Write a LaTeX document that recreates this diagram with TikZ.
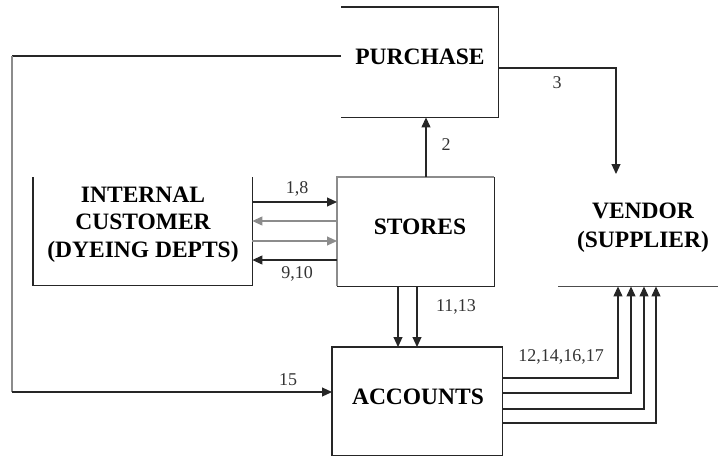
\documentclass[tikz,border=0pt]{standalone}
\usepackage{fontspec}
\setmainfont{Liberation Serif}
\usetikzlibrary{arrows.meta}
\begin{document}
\begin{tikzpicture}[x=1pt,y=-1pt,
  edge/.style={line width=1.1pt, draw=black!85},
  lightedge/.style={line width=1.1pt, draw=black!45},
  tip/.style={-{Triangle[length=10pt,width=9pt]}},
  frame/.style={line width=1.4pt, draw=black!85},
  area/.style={rectangle, inner sep=0pt, anchor=north west},
  title/.style={font=\fontsize{23.5}{27.5}\selectfont\bfseries, align=center, inner sep=0pt},
  num/.style={font=\fontsize{18}{20}\selectfont, inner sep=0pt, text=black!80}]
\useasboundingbox (0,0) rectangle (718,456);

% boxes
\node[area, minimum width=157pt, minimum height=110pt] (pur) at (341,7) {};
\draw[frame] (pur.north west) -- (pur.north east) -- (pur.south east) -- (pur.south west);
\node[title] (purt) at (420,57) {PURCHASE};

\node[area, minimum width=219pt, minimum height=108pt] (cust) at (33,177) {};
\draw[frame] (cust.north west) -- (cust.south west) -- (cust.south east) -- (cust.north east);
\node[title] (custt) at (143,224.5) {INTERNAL\\CUSTOMER\\(DYEING DEPTS)};

\node[area, minimum width=157pt, minimum height=109pt] (stores) at (337,177) {};
\draw[frame, draw=black!45] (stores.south west) -- (stores.north west) -- (stores.north east);
\draw[frame] (stores.north east) -- (stores.south east) -- (stores.south west);
\node[title] (storest) at (420,227) {STORES};

\node[area, minimum width=170pt, minimum height=108pt] (acc) at (332,347) {};
\draw[frame] (acc.north west) rectangle (acc.south east);
\node[title] (acct) at (418,397) {ACCOUNTS};

\node[area, minimum width=160pt, minimum height=100pt] (vend) at (558,186) {};
\draw[frame, draw=black!70] (vend.south west) -- (vend.south east);
\node[title, font=\fontsize{23.5}{29}\selectfont\bfseries] (vendt) at (643,227.5) {VENDOR\\(SUPPLIER)};

% purchase -> accounts (15)
\coordinate (c15a) at (12,56);
\coordinate (c15b) at (12,392);
\draw[edge] (pur.west |- c15a) -- (c15a);
\draw[lightedge] (c15a) -- (c15b);
\draw[edge, tip] (c15b) -- (acc.west |- c15b);
\node[num] (l15) at (288,380) {15};

% purchase -> vendor (3)
\coordinate (c3) at (616,68);
\coordinate (v3) at (616,174);
\draw[edge, tip] (pur.east |- c3) -- (c3) -- (v3);
\node[num] (l3) at (557,83) {3};

% stores -> purchase (2)
\coordinate (x2) at (426,0);
\draw[edge, tip] (stores.north -| x2) -- (pur.south -| x2);
\node[num] (l2) at (446,145) {2};

% customer <-> stores
\coordinate (ya) at (0,202);
\coordinate (yb) at (0,221);
\coordinate (yc) at (0,241);
\coordinate (yd) at (0,260);
\draw[edge, tip] (cust.east |- ya) -- (stores.west |- ya);
\draw[lightedge, tip] (stores.west |- yb) -- (cust.east |- yb);
\draw[lightedge, tip] (cust.east |- yc) -- (stores.west |- yc);
\draw[edge, tip] (stores.west |- yd) -- (cust.east |- yd);
\node[num] (l18) at (297,189) {1,8};
\node[num] (l910) at (297,274) {9,10};

% stores -> accounts
\coordinate (xs1) at (398,0);
\coordinate (xs2) at (417,0);
\draw[edge, tip] (stores.south -| xs1) -- (acc.north -| xs1);
\draw[edge, tip] (stores.south -| xs2) -- (acc.north -| xs2);
\node[num] (l1113) at (456,307) {11,13};

% accounts -> vendor
\foreach \yy/\xx in {378/618, 393/631, 409/644, 423/656} {
  \coordinate (k) at (\xx,\yy);
  \draw[edge, tip] (acc.east |- k) -- (k) -- (vend.south -| k);
}
\node[num] (l12) at (561,357) {12,14,16,17};
\end{tikzpicture}
\end{document}
